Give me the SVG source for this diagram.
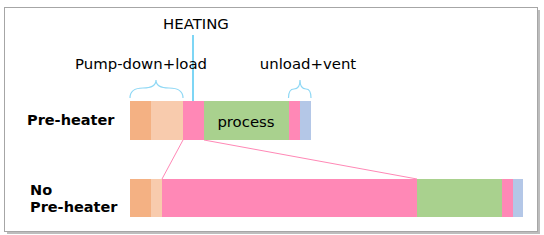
<svg xmlns="http://www.w3.org/2000/svg" width="544" height="235" viewBox="0 0 544 235">
<defs>
<style>
text{font-family:"DejaVu Sans","Verdana",sans-serif;fill:#000;}
.lbl{font-size:14.9px;}
.b{font-size:14.5px;font-weight:bold;}
.or{fill:#F4B183;}
.pe{fill:#F8CBAD;}
.pk{fill:#FF88B6;}
.gr{fill:#A9D18E;}
.bl{fill:#B4C7E7;}
.brace{fill:none;stroke:#8FD8F5;stroke-width:1.2;}
.link{stroke:#FF88B6;stroke-width:1;fill:none;}
</style>
</defs>
<rect x="0" y="0" width="544" height="235" fill="#fff"/>
<g id="frame">
<rect x="7" y="10" width="533" height="224" fill="#bdbdbd"/>
<rect x="4.5" y="7.5" width="533" height="224" fill="#fff" stroke="#a6a6a6" stroke-width="1"/>
</g>
<g id="connectors">
<line class="link" x1="183" y1="140" x2="162" y2="179"/>
<line class="link" x1="204" y1="140" x2="417" y2="179"/>
<line x1="193" y1="35" x2="193" y2="101" stroke="#5ECCF3" stroke-width="1.6"/>
</g>
<g id="heating-label"><text class="lbl" x="196" y="29" text-anchor="middle">HEATING</text></g>
<g id="pump-label">
<text class="lbl" x="141" y="69" text-anchor="middle">Pump-down+load</text>
<path class="brace" d="M130,98 Q130,88 143,88 Q156,88 156,80 Q156,88 169,88 Q183,88 183,98"/>
</g>
<g id="unload-label">
<text class="lbl" x="308" y="69" text-anchor="middle">unload+vent</text>
<path class="brace" d="M288.5,98 Q288.5,89 294,89 Q300,89 300,80 Q300,89 306,89 Q311,89 311,98"/>
</g>
<g id="pre-heater">
<text class="b" x="27" y="125">Pre-heater</text>
<rect class="or" x="130" y="101" width="21" height="39"/>
<rect class="pe" x="151" y="101" width="32" height="39"/>
<rect class="pk" x="183" y="101" width="21" height="39"/>
<rect class="gr" x="204" y="101" width="85" height="39"/>
<rect class="pk" x="289" y="101" width="11" height="39"/>
<rect class="bl" x="300" y="101" width="11" height="39"/>
<text class="lbl" x="246" y="127" text-anchor="middle">process</text>
</g>
<g id="no-pre-heater">
<text class="b" x="30" y="195">No</text>
<text class="b" x="30" y="212">Pre-heater</text>
<rect class="or" x="130" y="179" width="21" height="38"/>
<rect class="pe" x="151" y="179" width="11" height="38"/>
<rect class="pk" x="162" y="179" width="255" height="38"/>
<rect class="gr" x="417" y="179" width="85" height="38"/>
<rect class="pk" x="502" y="179" width="11" height="38"/>
<rect class="bl" x="513" y="179" width="10" height="38"/>
</g>
</svg>
